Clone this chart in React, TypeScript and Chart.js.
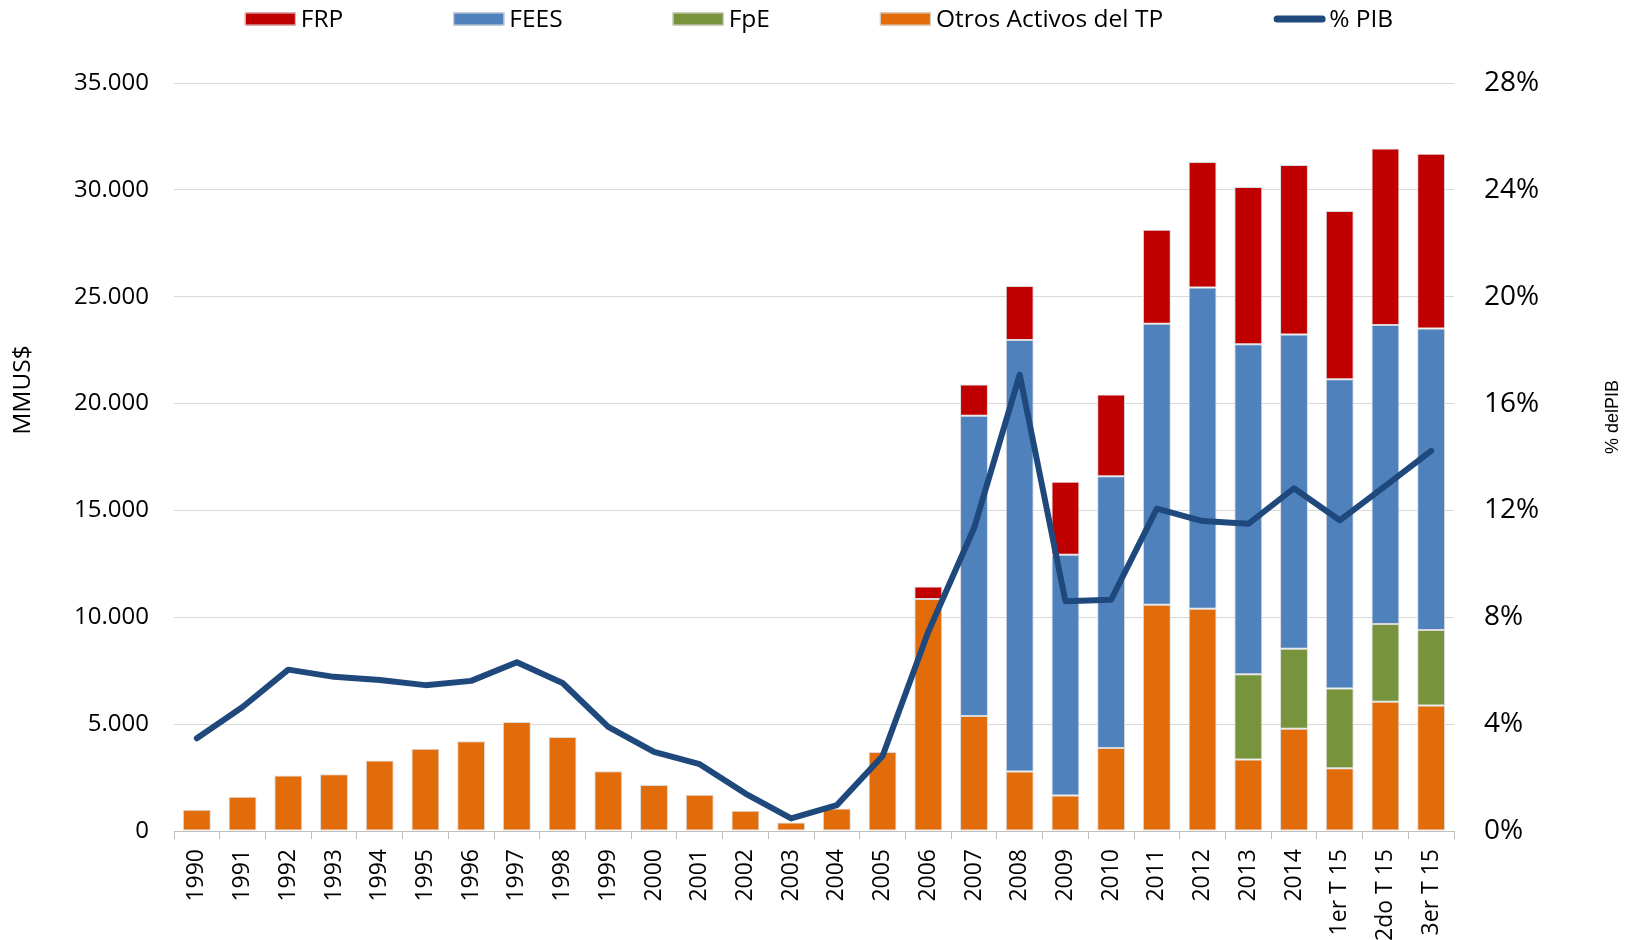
import React, { useEffect, useRef } from "react";
import { Chart, registerables } from "chart.js";

Chart.register(...registerables);

const categories = [
  "1990", "1991", "1992", "1993", "1994", "1995", "1996", "1997", "1998", "1999",
  "2000", "2001", "2002", "2003", "2004", "2005", "2006", "2007", "2008", "2009",
  "2010", "2011", "2012", "2013", "2014", "1er T 15", "2do T 15", "3er T 15",
];

const otrosActivos = [
  1000, 1600, 2600, 2650, 3300, 3850, 4200, 5100, 4400, 2800,
  2150, 1700, 950, 400, 1050, 3700, 10850, 5380, 2780, 1660,
  3880, 10590, 10400, 3340, 4780, 2940, 6050, 5870,
];

const fpe = [
  null, null, null, null, null, null, null, null, null, null,
  null, null, null, null, null, null, null, null, null, null,
  null, null, null, 4000, 3750, 3730, 3630, 3540,
];

const fees = [
  null, null, null, null, null, null, null, null, null, null,
  null, null, null, null, null, null, null, 14050, 20200, 11270,
  12720, 13140, 15030, 15440, 14700, 14470, 14000, 14100,
];

const frp = [
  null, null, null, null, null, null, null, null, null, null,
  null, null, null, null, null, null, 590, 1460, 2520, 3410,
  3830, 4400, 5870, 7350, 7930, 7870, 8260, 8180,
];

const pibPct = [
  3.47, 4.64, 6.04, 5.77, 5.65, 5.46, 5.62, 6.32, 5.54, 3.9,
  2.96, 2.5, 1.4, 0.47, 0.97, 2.81, 7.46, 11.33, 17.08, 8.6,
  8.66, 12.07, 11.6, 11.5, 12.83, 11.63, 12.92, 14.23,
];

const seriesLabels = ["Otros Activos del TP", "FpE", "FEES", "FRP", "% PIB"];
const seriesColors = ["#E36C0A", "#77933C", "#4F81BD", "#C00000", "#1F497D"];
const legendOrder = [3, 2, 1, 0, 4];

const leftMax = 35000;
const leftStep = 5000;
const rightMax = 28;
const rightStep = 4;
const leftTitle = "MMUS$";
const rightTitle = "% delPIB";

const FONT = '"Open Sans", "Noto Sans", sans-serif';

function fmtThousands(v: number): string {
  const s = Math.round(v).toString();
  return s.replace(/\B(?=(\d{3})+(?!\d))/g, ".");
}

const overlayPlugin = {
  id: "overlayLegendTitles",
  afterDraw(chart: any) {
    const ctx = chart.ctx as CanvasRenderingContext2D;
    ctx.save();
    // legend
    const BOX_W = 51;
    const BOX_H = 13;
    const TXT_GAP = 5;
    const ITEM_GAP = 110;
    const LEG_Y = 19;
    ctx.font = `24.5px ${FONT}`;
    ctx.textBaseline = "middle";
    ctx.textAlign = "left";
    const items = legendOrder.map((i) => chart.data.datasets[i]);
    const widths = items.map((ds: any) => BOX_W + TXT_GAP + ctx.measureText(ds.label).width);
    const total = widths.reduce((a: number, b: number) => a + b, 0) + ITEM_GAP * (items.length - 1);
    let x = chart.width / 2 + 2 - total / 2;
    items.forEach((ds: any, k: number) => {
      if (ds.type === "line") {
        ctx.strokeStyle = ds.borderColor;
        ctx.lineWidth = 7;
        ctx.lineCap = "round";
        ctx.beginPath();
        ctx.moveTo(x + 4, LEG_Y);
        ctx.lineTo(x + BOX_W - 2, LEG_Y);
        ctx.stroke();
      } else {
        ctx.fillStyle = ds.backgroundColor;
        ctx.fillRect(x, LEG_Y - BOX_H / 2, BOX_W, BOX_H);
        ctx.strokeStyle = "#d9d9d9";
        ctx.lineWidth = 1;
        ctx.strokeRect(x + 0.5, LEG_Y - BOX_H / 2 + 0.5, BOX_W - 1, BOX_H - 1);
      }
      ctx.fillStyle = "#000";
      ctx.fillText(ds.label, x + BOX_W + TXT_GAP, LEG_Y + 1);
      x += widths[k] + ITEM_GAP;
    });
    // axis titles
    ctx.fillStyle = "#000";
    ctx.textAlign = "center";
    ctx.textBaseline = "middle";
    ctx.save();
    ctx.translate(23, 390);
    ctx.rotate(-Math.PI / 2);
    ctx.font = `24.5px ${FONT}`;
    ctx.fillText(leftTitle, 0, 0);
    ctx.restore();
    ctx.save();
    ctx.translate(1613, 417);
    ctx.rotate(-Math.PI / 2);
    ctx.font = `18px "Liberation Sans", Arial, sans-serif`;
    ctx.fillText(rightTitle, 0, 0);
    ctx.restore();
    ctx.restore();
  },
};

export default function App() {
  const canvasRef = useRef<HTMLCanvasElement | null>(null);

  useEffect(() => {
    if (!canvasRef.current) return;
    const barValues = [otrosActivos, fpe, fees, frp];
    const barSets = barValues.map((vals, i) => ({
      type: "bar" as const,
      label: seriesLabels[i],
      data: vals,
      backgroundColor: seriesColors[i],
      borderColor: "#d9d9d9",
      borderWidth: 1,
      borderSkipped: false,
      yAxisID: "y",
      stack: "s",
      order: 1,
      barPercentage: 0.61,
      categoryPercentage: 1,
    }));
    const lineSet = {
      type: "line" as const,
      label: seriesLabels[4],
      data: pibPct,
      borderColor: seriesColors[4],
      backgroundColor: seriesColors[4],
      borderWidth: 6,
      pointRadius: 0,
      pointHoverRadius: 0,
      tension: 0,
      borderJoinStyle: "round",
      borderCapStyle: "round",
      yAxisID: "y1",
      order: 0,
      fill: false,
    };

    const chart = new Chart(canvasRef.current, {
      type: "bar",
      data: { labels: categories, datasets: [...barSets, lineSet] as any },
      options: {
        responsive: false,
        animation: false,
        devicePixelRatio: 1,
        layout: { padding: { top: 83, left: 0, right: 0, bottom: 0 } },
        plugins: {
          legend: { display: false },
          tooltip: { enabled: false },
          title: { display: false },
        },
        scales: {
          x: {
            stacked: true,
            offset: true,
            grid: {
              offset: true,
              drawOnChartArea: false,
              drawTicks: true,
              tickLength: 8,
              color: "#bfbfbf",
              lineWidth: 1,
            },
            border: { display: true, color: "#bfbfbf", width: 1 },
            ticks: {
              autoSkip: false,
              minRotation: 90,
              maxRotation: 90,
              padding: 10,
              color: "#000",
              font: { family: FONT, size: 23 },
            },
            afterFit: (scale: any) => {
              scale.height = 109;
            },
          },
          y: {
            position: "left",
            stacked: true,
            min: 0,
            max: leftMax,
            ticks: {
              stepSize: leftStep,
              padding: 25,
              color: "#000",
              font: { family: FONT, size: 24 },
              callback: (v: any) => fmtThousands(Number(v)),
            },
            grid: { color: "#d9d9d9", lineWidth: 1, drawTicks: false },
            border: { display: false },
            afterFit: (scale: any) => {
              scale.width = 174;
            },
          },
          y1: {
            position: "right",
            stacked: false,
            min: 0,
            max: rightMax,
            ticks: {
              stepSize: rightStep,
              padding: 30,
              color: "#000",
              font: { family: FONT, size: 28 },
              callback: (v: any) => `${v}%`,
            },
            grid: { drawOnChartArea: false, drawTicks: false },
            border: { display: false },
            afterFit: (scale: any) => {
              scale.width = 180;
            },
          },
        },
      } as any,
      plugins: [overlayPlugin],
    });

    return () => {
      chart.destroy();
    };
  }, []);

  return (
    <div style={{ position: "fixed", left: 0, top: 0, width: 1634, height: 940, background: "#fff" }}>
      <canvas ref={canvasRef} width={1634} height={940} style={{ display: "block" }} />
    </div>
  );
}
